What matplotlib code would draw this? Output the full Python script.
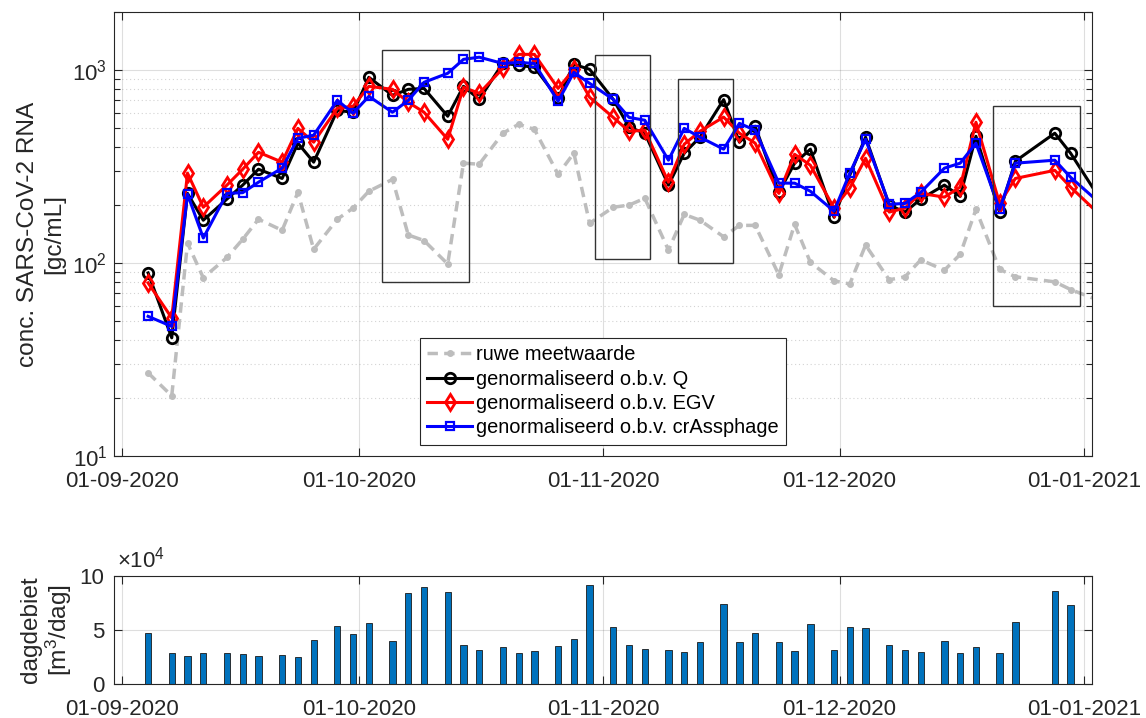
import numpy as np
import pandas as pd
import matplotlib
matplotlib.use("Agg")
import matplotlib.pyplot as plt
import matplotlib.dates as mdates
from matplotlib.patches import Rectangle
from matplotlib.ticker import FuncFormatter, LogLocator, NullFormatter, FixedLocator

plt.rcParams["font.family"] = ["Liberation Sans", "DejaVu Sans"]
plt.rcParams["mathtext.fontset"] = "custom"
plt.rcParams["mathtext.rm"] = "Liberation Sans"
plt.rcParams["mathtext.it"] = "Liberation Sans:italic"

# ---- data -------------------------------------------------------------
sample_dates = [
    "2020-09-04", "2020-09-07", "2020-09-09", "2020-09-11", "2020-09-14",
    "2020-09-16", "2020-09-18", "2020-09-21", "2020-09-23", "2020-09-25",
    "2020-09-28", "2020-09-30", "2020-10-02", "2020-10-05", "2020-10-07",
    "2020-10-09", "2020-10-12", "2020-10-14", "2020-10-16", "2020-10-19",
    "2020-10-21", "2020-10-23", "2020-10-26", "2020-10-28", "2020-10-30",
    "2020-11-02", "2020-11-04", "2020-11-06", "2020-11-09", "2020-11-11",
    "2020-11-13", "2020-11-16", "2020-11-18", "2020-11-20", "2020-11-23",
    "2020-11-25", "2020-11-27", "2020-11-30", "2020-12-02", "2020-12-04",
    "2020-12-07", "2020-12-09", "2020-12-11", "2020-12-14", "2020-12-16",
    "2020-12-18", "2020-12-21", "2020-12-23", "2020-12-28", "2020-12-30",
    "2021-01-04",
]

# raw measured concentration [gc/mL]
raw = [27, 20.5, 127, 84, 107, 133, 169, 148, 233, 118,
       169, 193, 236, 272, 140, 131, 99, 330, 326, 472,
       525, 494, 289, 372, 161, 195, 200, 217, 117, 179,
       167, 137, 157, 157, 87, 159, 101, 81, 78, 124,
       82, 85, 104, 92, 111, 190, 93, 85, 80, 73,
       61]

# normalised on flow (Q)
norm_q = [89, 41, 230, 167, 215, 254, 307, 275, 419, 334,
          620, 606, 920, 742, 797, 806, 578, 826, 707, 1090,
          1062, 1036, 716, 1074, 1012, 707, 507, 472, 254, 372,
          450, 705, 424, 513, 233, 330, 390, 173, 286, 450,
          200, 184, 215, 254, 222, 455, 184, 338, 472, 372,
          179]

# normalised on conductivity (EGV)
norm_egv = [79, 52, 293, 195, 254, 307, 376, 334, 500, 424,
            636, 651, 826, 797, 683, 606, 439, 816, 760, 1024,
            1210, 1210, 806, 1012, 725, 570, 483, 489, 263, 414,
            483, 572, 472, 419, 230, 367, 322, 193, 245, 350,
            184, 193, 230, 220, 248, 538, 204, 275, 303, 248,
            159]

# normalised on crAssphage
norm_crass = [53, 47, 228, 135, 230, 232, 263, 311, 444, 461,
              699, 599, 733, 606, 699, 867, 965, 1140, 1170, 1085,
              1100, 1085, 691, 976, 856, 707, 570, 551, 342, 500,
              450, 390, 531, 489, 260, 260, 236, 186, 293, 439,
              202, 204, 233, 311, 330, 419, 190, 330, 342, 279,
              184]

# daily flow [m3/day]
flow = [47000, 28400, 26000, 28400, 28400, 27500, 26000, 26900, 25300, 41000,
        53400, 46600, 56500, 39500, 84300, 89500, 84900, 35800, 31200, 34300,
        29000, 30200, 35500, 41400, 91400, 52500, 36400, 32100, 31800, 29900,
        39200, 74400, 39200, 47200, 38900, 30600, 55200, 31500, 52500, 52200,
        35800, 31800, 29900, 40100, 29000, 34600, 28400, 57400, 86400, 73100]

# highlighted periods
box_start = ["2020-10-04", "2020-10-31", "2020-11-10 12:00", "2020-12-20 12:00"]
box_end = ["2020-10-15", "2020-11-07", "2020-11-17 12:00", "2020-12-31 12:00"]
box_low = [80, 105, 100, 60]
box_high = [1280, 1200, 900, 655]

# ---- plot -------------------------------------------------------------
t = (pd.to_datetime(sample_dates) + pd.Timedelta(hours=7)).to_pydatetime()
xlim = (pd.Timestamp("2020-08-31").to_pydatetime(),
        pd.Timestamp("2021-01-02").to_pydatetime())

edge = "#262626"
fig = plt.figure(figsize=(11.46, 7.18), dpi=100)
ax1 = fig.add_axes([0.0997, 0.3649, 0.8531, 0.6180])
ax2 = fig.add_axes([0.0997, 0.0474, 0.8531, 0.1504])

ax1.plot(t, raw, color="#bdbdbd", lw=2.5, ls=(0, (3, 1.8)), marker="o",
         ms=4, mfc="#bdbdbd", mec="#bdbdbd", label="ruwe meetwaarde")
ax1.plot(t, norm_q, color="k", lw=2.2, marker="o", ms=7.5, mfc="none",
         mew=2, label="genormaliseerd o.b.v. Q")
ax1.plot(t, norm_egv, color="#ff0000", lw=2.2, marker="d", ms=8.5, mfc="none",
         mew=2, label="genormaliseerd o.b.v. EGV")
ax1.plot(t, norm_crass, color="#0000ff", lw=2.2, marker="s", ms=6, mfc="none",
         mew=1.6, label="genormaliseerd o.b.v. crAssphage")

for s, e, lo, hi in zip(box_start, box_end, box_low, box_high):
    x0 = mdates.date2num(pd.Timestamp(s).to_pydatetime())
    x1 = mdates.date2num(pd.Timestamp(e).to_pydatetime())
    ax1.add_patch(Rectangle((x0, lo), x1 - x0, hi - lo, fill=False,
                            edgecolor="#333333", lw=1.0, zorder=5))

ax1.set_yscale("log")
ax1.set_ylim(10, 2000)
ax1.set_xlim(*xlim)
ax1.yaxis.set_major_locator(FixedLocator([10, 100, 1000]))
ax1.yaxis.set_major_formatter(FuncFormatter(
    lambda v, p: r"$\mathregular{10^{%d}}$" % int(round(np.log10(v)))))
ax1.yaxis.set_minor_locator(LogLocator(base=10, subs=np.arange(2, 10)))
ax1.yaxis.set_minor_formatter(NullFormatter())
ax1.set_ylabel("conc. SARS-CoV-2 RNA\n[gc/mL]", fontsize=17.6, color=edge,
               va="center", linespacing=1.25)
ax1.yaxis.set_label_coords(-0.0745, 0.5)
ax1.grid(True, which="minor", axis="y", color=edge, alpha=0.2,
         ls=(0, (1, 2.5)), lw=0.8)

ax2.bar(t[:len(flow)], flow, width=0.8, color="#0072BD", edgecolor="#1a1a1a",
        linewidth=0.6)
ax2.set_xlim(*xlim)
ax2.set_ylim(0, 100000)
ax2.yaxis.set_major_locator(FixedLocator([0, 50000, 100000]))
ax2.yaxis.set_major_formatter(FuncFormatter(lambda v, p: "%g" % (v / 1e4)))
ax2.text(0.003, 1.03, r"$\mathregular{\times10^{4}}$", transform=ax2.transAxes,
         ha="left", va="bottom", fontsize=16, color=edge)
ax2.set_ylabel("dagdebiet\n[m$^{3}$/dag]", fontsize=17.6, color=edge,
               va="center", linespacing=1.1)
ax2.yaxis.set_label_coords(-0.069, 0.5)

for ax in (ax1, ax2):
    ax.xaxis.set_major_locator(mdates.MonthLocator())
    ax.xaxis.set_major_formatter(mdates.DateFormatter("%d-%m-%Y"))
    ax.set_axisbelow(True)
    ax.grid(True, which="major", color=edge, alpha=0.15, lw=0.8)
    for sp in ax.spines.values():
        sp.set_color(edge)
        sp.set_linewidth(0.8)
    ax.tick_params(which="both", direction="in", top=True, right=True,
                   colors=edge, labelsize=16, width=0.8)
    ax.tick_params(which="major", length=6)
    ax.tick_params(which="minor", length=4)
    ax.tick_params(axis="x", pad=10.5)
ax1.tick_params(axis="y", pad=5)
ax2.tick_params(axis="y", pad=7)

leg = ax1.legend(loc="lower center", fontsize=14.4, handlelength=2.25,
                 handletextpad=0.2, labelspacing=0.27, borderpad=0.38,
                 borderaxespad=0.55, fancybox=False, framealpha=1,
                 edgecolor=edge)
leg.get_frame().set_linewidth(0.8)

fig.savefig("out.png", dpi=100)
